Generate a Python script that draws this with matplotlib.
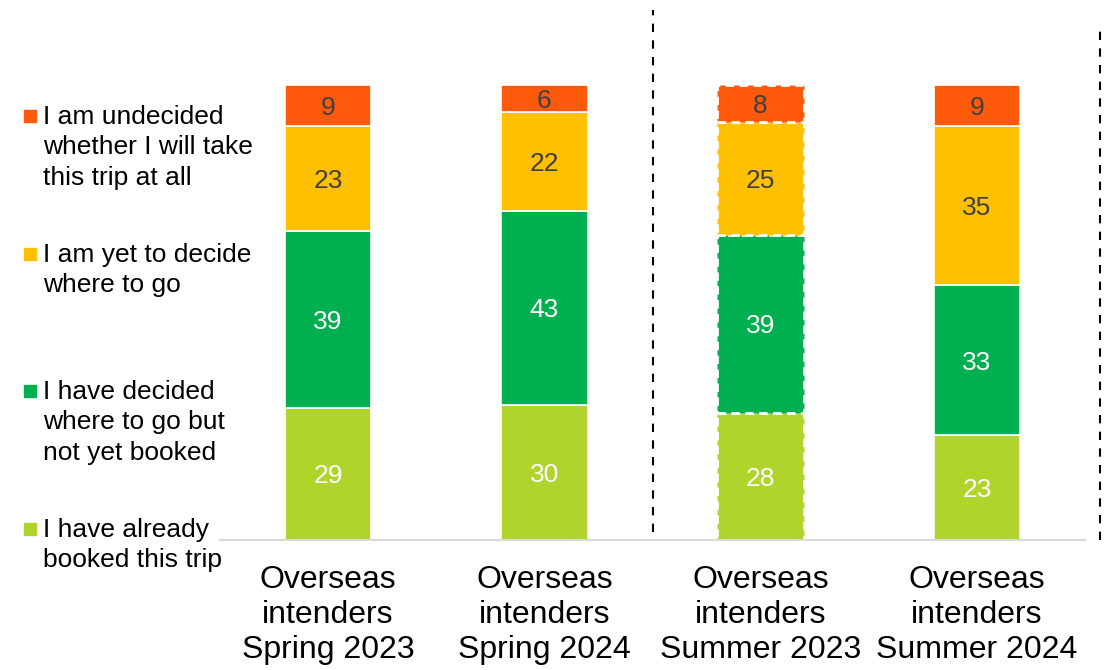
import numpy as np
import matplotlib.pyplot as plt
from matplotlib.patches import Rectangle
from matplotlib.lines import Line2D

plt.rcParams['font.family'] = ['Liberation Sans', 'DejaVu Sans']

categories = ['Overseas\nintenders\nSpring 2023', 'Overseas\nintenders\nSpring 2024',
              'Overseas\nintenders\nSummer 2023', 'Overseas\nintenders\nSummer 2024']
booked = [29, 30, 28, 23]
decided = [39, 43, 39, 33]
yet_to_decide = [23, 22, 25, 35]
undecided = [9, 6, 8, 9]

series_names = ['I have already\nbooked this trip',
                'I have decided\nwhere to go but\nnot yet booked',
                'I am yet to decide\nwhere to go',
                'I am undecided\nwhether I will take\nthis trip at all']
colors = ['#B1D42C', '#00B050', '#FFC000', '#FF5A0B']
label_colors = ['white', 'white', '#404040', '#404040']

series = [booked, decided, yet_to_decide, undecided]
data = np.array(series, dtype=float)
totals = data.sum(axis=0)
heights = data / totals * 100  # bars are shown as shares of 100

fig = plt.figure(figsize=(11.1, 6.7), dpi=100)
ax = fig.add_axes([220 / 1110, 130 / 670, 865 / 1110, 500 / 670])

x = np.arange(len(categories))
bottom = np.zeros(len(categories))
for k in range(len(series)):
    for i in range(len(categories)):
        dashed = (i == 2)
        ax.bar(x[i], heights[k][i], 0.4, bottom=bottom[i], color=colors[k],
               edgecolor='white', linewidth=2 if dashed else 1.2,
               linestyle=(0, (3, 2)) if dashed else '-', zorder=2)
        ax.text(x[i], bottom[i] + heights[k][i] / 2 - 0.5, str(series[k][i]),
                ha='center', va='center', fontsize=19, color=label_colors[k], zorder=3)
    bottom += heights[k]

ax.set_xlim(-0.5, 3.5)
ax.set_ylim(0, 110)
for s in ['top', 'right', 'left']:
    ax.spines[s].set_visible(False)
ax.spines['bottom'].set_color('#D9D9D9')
ax.spines['bottom'].set_linewidth(1.5)
ax.set_yticks([])
ax.set_xticks(x)
ax.set_xticklabels(categories, fontsize=23, linespacing=1.22)
ax.tick_params(axis='x', length=0, pad=18)

# dashed separators
ax.add_line(Line2D([1.5, 1.5], [1.8, 116.7], color='black', linewidth=1.5,
                   linestyle=(0, (4, 4)), clip_on=False))
ax.add_line(Line2D([3.57, 3.57], [0, 113.4], color='black', linewidth=1.5,
                   linestyle=(0, (4, 4)), clip_on=False))

# legend on the left
legend_y = [116, 254, 391, 529]
for k, yy in zip([3, 2, 1, 0], legend_y):
    fy = 1 - yy / 670
    fig.add_artist(Rectangle((24 / 1110, fy - 6 / 670), 12 / 1110, 12 / 670,
                             transform=fig.transFigure, color=colors[k]))
    fig.text(43 / 1110, fy + 11 / 670, series_names[k], fontsize=19,
             ha='left', va='top', linespacing=1.33)

fig.savefig('out.png', dpi=100)
